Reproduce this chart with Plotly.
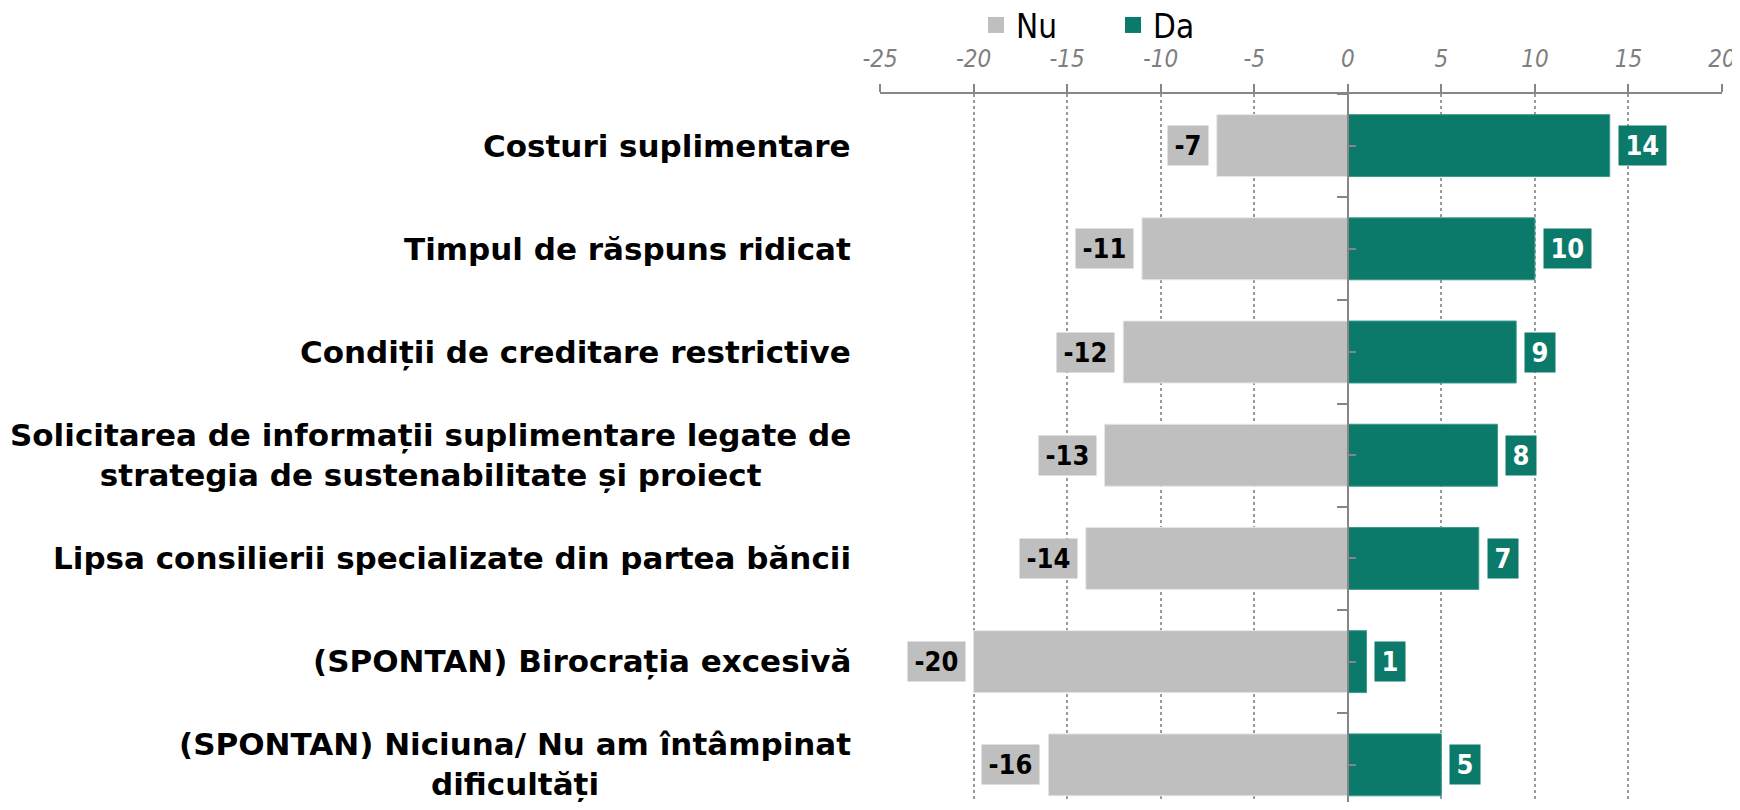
import plotly.graph_objects as go

categories = [
    "Costuri suplimentare",
    "Timpul de răspuns ridicat",
    "Condiții de creditare restrictive",
    "Solicitarea de informații suplimentare legate de<br>strategia de sustenabilitate și proiect",
    "Lipsa consilierii specializate din partea băncii",
    "(SPONTAN) Birocrația excesivă",
    "(SPONTAN) Niciuna/ Nu am întâmpinat<br>dificultăți",
]
nu_values = [-7, -11, -12, -13, -14, -20, -16]
da_values = [14, 10, 9, 8, 7, 1, 5]
x_ticks = [-25, -20, -15, -10, -5, 0, 5, 10, 15, 20]

GREY = "#bfbfbf"
TEAL = "#0b7a6a"
AXIS = "#868686"
COND = "DejaVu Sans Condensed"
HS = "\u200a"

fig = go.Figure()
fig.add_trace(go.Bar(y=categories, x=nu_values, orientation="h",
                     marker=dict(color=GREY, line=dict(color="#e6e6e6", width=1)),
                     showlegend=False, name="Nu", hoverinfo="x+y"))
fig.add_trace(go.Bar(y=categories, x=da_values, orientation="h",
                     marker=dict(color=TEAL, line=dict(color="#3a9a8a", width=1)),
                     showlegend=False, name="Da", hoverinfo="x+y"))
# legend entries
fig.add_trace(go.Scatter(x=[None], y=[None], mode="markers", name="Nu",
                         marker=dict(symbol="square", size=18, color=GREY)))
fig.add_trace(go.Scatter(x=[None], y=[None], mode="markers", name="Da",
                         marker=dict(symbol="square", size=18, color=TEAL)))
# helper trace for the axis at zero
fig.add_trace(go.Scatter(x=[None], y=[None], yaxis="y2", showlegend=False, hoverinfo="skip"))

yrange = [6.36, -0.5]
n = len(categories)

annotations = []
for c in categories:
    annotations.append(dict(x=0, xref="paper", y=c, yref="y", text=c, showarrow=False,
                            xanchor="right", align="center", xshift=-27,
                            font=dict(family="DejaVu Sans", size=31, color="black", weight="bold")))
for c, v in zip(categories, nu_values):
    annotations.append(dict(x=v, xref="x", y=c, yref="y", text=f"{HS}{v}{HS}", showarrow=False,
                            xanchor="right", xshift=-8, bgcolor=GREY, borderpad=4,
                            font=dict(family=COND, size=27, color="black", weight="bold")))
for c, v in zip(categories, da_values):
    annotations.append(dict(x=v, xref="x", y=c, yref="y", text=f"{HS}{v}{HS}", showarrow=False,
                            xanchor="left", xshift=8, bgcolor=TEAL, borderpad=4,
                            font=dict(family=COND, size=27, color="white", weight="bold")))

zero_pos = (0 - x_ticks[0]) / (x_ticks[-1] - x_ticks[0])

fig.update_layout(
    width=1732, height=794,
    margin=dict(l=872, r=18, t=86, b=0, pad=0, autoexpand=False),
    paper_bgcolor="white", plot_bgcolor="white",
    barmode="relative", bargap=0.40,
    annotations=annotations,
    legend=dict(orientation="h", xref="container", yref="container",
                x=0.5589, y=0.9786, xanchor="left", yanchor="middle",
                font=dict(family=COND, size=33, color="black"), entrywidth=92,
                bgcolor="rgba(0,0,0,0)"),
    xaxis=dict(side="top", range=[x_ticks[0], x_ticks[-1]], tickvals=x_ticks,
               ticktext=[str(t) for t in x_ticks], automargin=False,
               ticklabeloverflow="allow",
               showline=True, linecolor=AXIS, linewidth=2, ticks="outside", ticklen=8,
               tickcolor=AXIS, tickwidth=1.5, ticklabelstandoff=7,
               tickfont=dict(family=COND, size=24, color="#7f7f7f", style="italic"),
               showgrid=True, gridcolor="#9a9a9a", griddash="dot", gridwidth=1.5,
               zeroline=False, fixedrange=True),
    yaxis=dict(type="category", categoryorder="array", categoryarray=categories,
               range=yrange, showticklabels=False, showgrid=False, zeroline=False,
               showline=False, ticks="", automargin=False),
    yaxis2=dict(overlaying="y", anchor="free", position=zero_pos, side="left",
                range=yrange, showline=True, linecolor=AXIS, linewidth=1.5,
                tickvals=[i - 0.5 for i in range(n)], ticks="outside", ticklen=10,
                tickcolor=AXIS, tickwidth=2, showticklabels=False, showgrid=False,
                zeroline=False, automargin=False,
                minor=dict(tickvals=list(range(n)), ticks="inside", ticklen=7,
                           tickcolor=AXIS, tickwidth=2, showgrid=False)),
)

fig.write_html("out.html")
